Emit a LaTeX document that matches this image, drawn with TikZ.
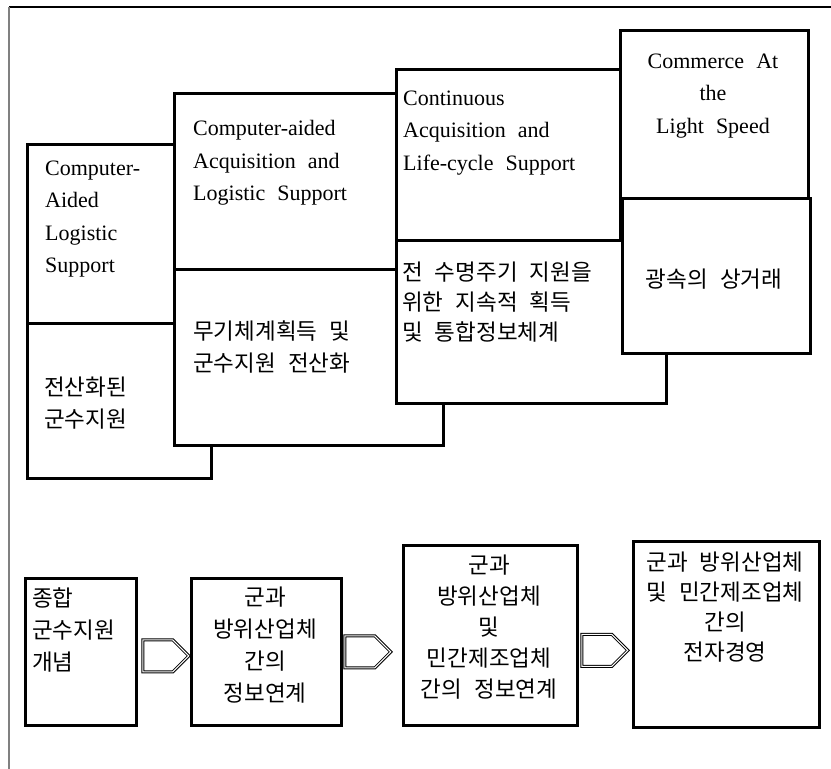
\documentclass[tikz,border=0pt]{standalone}
\usepackage{fontspec}
\setmainfont{Liberation Serif}[WordSpace=2.2]
\newfontfamily\kr{Noto Sans CJK KR}[WordSpace=2.4]
\usetikzlibrary{calc}

\begin{document}
\begin{tikzpicture}[x=1pt, y=-1pt,
  panel/.style={draw=black, fill=white, line width=2.8pt, rectangle, inner sep=0pt, anchor=north west},
  en/.style={font=\fontsize{22}{32.3}\selectfont, inner sep=0pt},
  ko/.style={font=\kr\fontsize{22.5}{32}\selectfont, inner sep=0pt},
  arrowline/.style={draw=black, line width=0.95pt, double=white, double distance=1.1pt, line join=miter},
  blockarrow/.pic={\path[arrowline] (0,-16) -- (30,-16) -- (46,0) -- (30,16) -- (0,16) -- cycle;}
]
\useasboundingbox (0,0) rectangle (831,769);

% page frame (top and left rules)
\draw[line width=1.8pt] (9,7) -- (831,7);
\draw[gray, line width=1.2pt] (9,7) -- (9,769);

% stage 1: CALS (computer-aided logistic support)
\node[panel, minimum width=184pt, minimum height=155pt] (s1low) at (26,322) {};
\node[panel, minimum width=147pt, minimum height=179pt] (s1up) at (26,143) {};
% stage 2
\node[panel, minimum width=269pt, minimum height=176pt] (s2low) at (173,268) {};
\node[panel, minimum width=222pt, minimum height=176pt] (s2up) at (173,92) {};
% stage 3
\node[panel, minimum width=270pt, minimum height=163pt] (s3low) at (395,239) {};
\node[panel, minimum width=224pt, minimum height=171pt] (s3up) at (395,68) {};
% stage 4
\node[panel, minimum width=188pt, minimum height=155pt] (s4low) at (621,197) {};
\node[panel, minimum width=188pt, minimum height=168pt] (s4up) at (619,29) {};

% stage labels
\node[en, align=left, anchor=west] (t1en) at (45,219) {Computer-\\Aided\\Logistic\\Support};
\node[ko, align=left, anchor=west] (t1ko) at (44,403) {전산화된\\군수지원};
\node[en, align=left, anchor=west] (t2en) at (193,163) {Computer-aided\\Acquisition and\\Logistic Support};
\node[ko, align=left, anchor=west] (t2ko) at (193,347) {무기체계획득 및\\군수지원 전산화};
\node[en, align=left, anchor=west] (t3en) at (403,133) {Continuous\\Acquisition and\\Life-cycle Support};
\node[ko, align=left, anchor=west, font=\kr\fontsize{22.5}{30}\selectfont] (t3ko) at (402,302) {전 수명주기 지원을\\위한 지속적 획득\\및 통합정보체계};
\node[en, align=center] (t4en) at (713,96) {Commerce At\\the\\Light Speed};
\node[ko] (t4ko) at (714,279) {광속의 상거래};

% evolution of information linkage
\node[panel, minimum width=111pt, minimum height=147pt] (bA) at (24,577) {};
\node[panel, minimum width=150pt, minimum height=147pt] (bB) at (190,577) {};
\node[panel, minimum width=174pt, minimum height=180pt] (bC) at (402,544) {};
\node[panel, minimum width=186pt, minimum height=186pt] (bD) at (632,540) {};

\node[ko, align=left, anchor=west] (tA) at (32,630) {종합\\군수지원\\개념};
\node[ko, align=center] (tB) at (265,645) {군과\\방위산업체\\간의\\정보연계};
\node[ko, align=center, font=\kr\fontsize{22.5}{31}\selectfont] (tC) at (489,627) {군과\\방위산업체\\및\\민간제조업체\\간의 정보연계};
\node[ko, align=center, font=\kr\fontsize{22.5}{30}\selectfont] (tD) at (725,607) {군과 방위산업체\\및 민간제조업체\\간의\\전자경영};

% block arrows between the stages
\coordinate (a1) at ($(bA.east)+(5,4)$);
\coordinate (a2) at ($(bB.east)+(2,0)$);
\coordinate (a3) at ($(bC.east)+(3,15)$);
\pic at (a1) {blockarrow};
\pic at (a2) {blockarrow};
\pic at (a3) {blockarrow};
\end{tikzpicture}
\end{document}
